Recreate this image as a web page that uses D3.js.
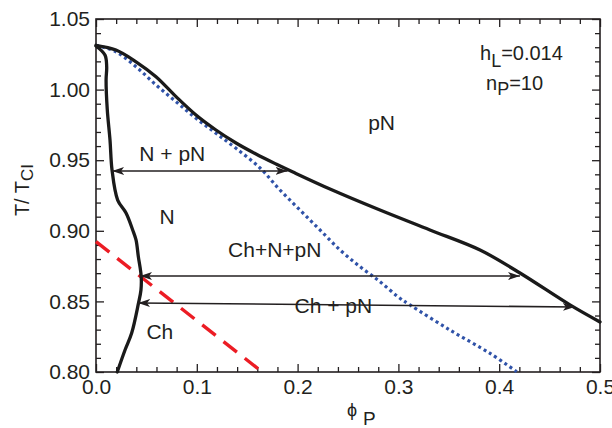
<!DOCTYPE html>
<html>
<head>
<meta charset="utf-8">
<script src="https://cdn.jsdelivr.net/npm/d3@7"></script>
<style>
  body { margin: 0; background: #fff; }
  text { font-family: "Liberation Sans", Arial, sans-serif; fill: #231f20; }
</style>
</head>
<body>
<div id="chart"></div>
<script>
// tick values
const xMajor = [0, 0.1, 0.2, 0.3, 0.4, 0.5];
const yMajor = [0.80, 0.85, 0.90, 0.95, 1.00, 1.05];

// phase boundaries [phi_P, T/T_CI]
const upperBoundary = [
  [0, 1.0314], [0.0198, 1.0280], [0.0397, 1.0197], [0.0595, 1.0091],
  [0.0794, 0.9950], [0.0992, 0.9820], [0.1190, 0.9714], [0.1389, 0.9622],
  [0.1587, 0.9544], [0.1786, 0.9473], [0.1954, 0.9416], [0.2321, 0.9296],
  [0.2817, 0.9147], [0.3313, 0.9006], [0.3810, 0.8864], [0.4206, 0.8701],
  [0.4702, 0.8475], [0.5, 0.8354]
];
const leftBoundary = [
  [0, 1.0309], [0.0089, 1.0245], [0.0106, 1.0162], [0.0100, 1.0068],
  [0.0112, 0.9856], [0.0139, 0.9643], [0.0159, 0.9431], [0.0215, 0.9218],
  [0.0298, 0.9126], [0.0364, 0.9006], [0.0397, 0.8935], [0.0420, 0.8817],
  [0.0448, 0.8680], [0.0446, 0.8581], [0.0420, 0.8482], [0.0354, 0.8276],
  [0.0288, 0.8156], [0.0211, 0.80]
];
const spinodal = [
  [0, 1.0314], [0.0198, 1.0268], [0.0397, 1.0162], [0.0595, 1.0033],
  [0.0794, 0.9914], [0.0992, 0.9797], [0.1190, 0.9691], [0.1389, 0.9584],
  [0.1627, 0.9445], [0.1825, 0.9289], [0.2024, 0.9147], [0.2222, 0.9006],
  [0.2421, 0.8864], [0.2619, 0.8746], [0.2817, 0.8640], [0.2996, 0.8533],
  [0.3115, 0.8475], [0.3512, 0.8297], [0.3909, 0.8132], [0.4174, 0.8002]
];
const chLine = [[0, 0.8923], [0.165, 0.80]];

// tie lines and labels
const tieLines = [
  { from: [0.0160, 0.9424], to: [0.1900, 0.9424] },
  { from: [0.0437, 0.8680], to: [0.4206, 0.8680] },
  { from: [0.0417, 0.8489], to: [0.4750, 0.8460] }
];
const regionLabels = [
  { text: "pN", at: [0.270, 0.9714] },
  { text: "N + pN", at: [0.043, 0.9497] },
  { text: "N", at: [0.063, 0.9047] },
  { text: "Ch+N+pN", at: [0.131, 0.8813] },
  { text: "Ch + pN", at: [0.197, 0.8419] },
  { text: "Ch", at: [0.050, 0.8235] }
];

const W = 612, H = 428;
const margin = { top: 19, right: 12, bottom: 56, left: 96 };
const width = W - margin.left - margin.right;
const height = H - margin.top - margin.bottom;

const svg = d3.select("#chart")
  .append("svg")
  .attr("width", W)
  .attr("height", H);

const g = svg.append("g")
  .attr("transform", `translate(${margin.left},${margin.top})`);

const x = d3.scaleLinear().domain([0, 0.5]).range([0, width]);
const y = d3.scaleLinear().domain([0.80, 1.05]).range([height, 0]);

const xMinor = d3.range(0, 0.5001, 0.02).filter(v => Math.abs(v * 10 - Math.round(v * 10)) > 1e-6);
const yMinor = d3.range(0.80, 1.0501, 0.01).filter(v => Math.abs(v * 20 - Math.round(v * 20)) > 1e-6);

// axes: ticks point inwards on all four sides
function styleAxis(sel, fontSize) {
  sel.select(".domain").remove();
  sel.selectAll("line").attr("stroke", "#231f20").attr("stroke-width", 1.3);
  sel.selectAll("text")
    .attr("font-family", "'Liberation Sans', Arial, sans-serif")
    .attr("font-size", fontSize)
    .attr("fill", "#231f20");
}

g.append("g").attr("transform", `translate(0,${height})`)
  .call(d3.axisBottom(x).tickValues(xMajor).tickSize(-8).tickPadding(7).tickFormat(d3.format(".1f")))
  .call(s => styleAxis(s, 21));
g.append("g").attr("transform", `translate(0,${height})`)
  .call(d3.axisBottom(x).tickValues(xMinor).tickSize(-5).tickFormat(""))
  .call(s => styleAxis(s, 21));
g.append("g")
  .call(d3.axisTop(x).tickValues(xMajor).tickSize(-8).tickFormat(""))
  .call(s => styleAxis(s, 21));
g.append("g")
  .call(d3.axisTop(x).tickValues(xMinor).tickSize(-5).tickFormat(""))
  .call(s => styleAxis(s, 21));

g.append("g")
  .call(d3.axisLeft(y).tickValues(yMajor).tickSize(-8).tickPadding(6).tickFormat(d3.format(".2f")))
  .call(s => styleAxis(s, 21));
g.append("g")
  .call(d3.axisLeft(y).tickValues(yMinor).tickSize(-5).tickFormat(""))
  .call(s => styleAxis(s, 21));
g.append("g").attr("transform", `translate(${width},0)`)
  .call(d3.axisRight(y).tickValues(yMajor).tickSize(-8).tickFormat(""))
  .call(s => styleAxis(s, 21));
g.append("g").attr("transform", `translate(${width},0)`)
  .call(d3.axisRight(y).tickValues(yMinor).tickSize(-5).tickFormat(""))
  .call(s => styleAxis(s, 21));

// frame
g.append("rect")
  .attr("width", width)
  .attr("height", height)
  .attr("fill", "none")
  .attr("stroke", "#231f20")
  .attr("stroke-width", 1.6);

// curves
const line = d3.line()
  .x(d => x(d[0]))
  .y(d => y(d[1]))
  .curve(d3.curveCatmullRom.alpha(0.5));

g.append("path")
  .datum(chLine)
  .attr("d", line)
  .attr("fill", "none")
  .attr("stroke", "#ec1c24")
  .attr("stroke-width", 3.4)
  .attr("stroke-dasharray", "17,10");

g.append("path")
  .datum(spinodal)
  .attr("d", line)
  .attr("fill", "none")
  .attr("stroke", "#2f52a8")
  .attr("stroke-width", 3.2)
  .attr("stroke-dasharray", "3,3.2");

g.selectAll(".boundary")
  .data([upperBoundary, leftBoundary])
  .join("path")
  .attr("class", "boundary")
  .attr("d", line)
  .attr("fill", "none")
  .attr("stroke", "#1a1a1a")
  .attr("stroke-width", 3.3)
  .attr("stroke-linecap", "round")
  .attr("stroke-linejoin", "round");

// arrow heads
const defs = svg.append("defs");
defs.append("marker")
  .attr("id", "arrowEnd")
  .attr("markerUnits", "userSpaceOnUse")
  .attr("viewBox", "0 -5 12 10")
  .attr("refX", 12).attr("refY", 0)
  .attr("markerWidth", 12).attr("markerHeight", 10)
  .attr("orient", "auto")
  .append("path")
  .attr("d", "M0,-4L12,0L0,4L3,0Z")
  .attr("fill", "#231f20");
defs.append("marker")
  .attr("id", "arrowStart")
  .attr("markerUnits", "userSpaceOnUse")
  .attr("viewBox", "0 -5 12 10")
  .attr("refX", 0).attr("refY", 0)
  .attr("markerWidth", 12).attr("markerHeight", 10)
  .attr("orient", "auto")
  .append("path")
  .attr("d", "M12,-4L0,0L12,4L9,0Z")
  .attr("fill", "#231f20");

g.selectAll(".tie")
  .data(tieLines)
  .join("line")
  .attr("class", "tie")
  .attr("x1", d => x(d.from[0])).attr("y1", d => y(d.from[1]))
  .attr("x2", d => x(d.to[0])).attr("y2", d => y(d.to[1]))
  .attr("stroke", "#231f20")
  .attr("stroke-width", 1.6)
  .attr("marker-start", "url(#arrowStart)")
  .attr("marker-end", "url(#arrowEnd)");

// region labels
g.selectAll(".region")
  .data(regionLabels)
  .join("text")
  .attr("class", "region")
  .attr("x", d => x(d.at[0]))
  .attr("y", d => y(d.at[1]))
  .attr("font-size", 21)
  .text(d => d.text);

// parameter annotation
const hl = svg.append("text").attr("x", 480).attr("y", 60).attr("font-size", 20);
hl.append("tspan").text("h");
hl.append("tspan").attr("font-size", 18).attr("dy", 7).text("L");
hl.append("tspan").attr("dy", -7).text("=0.014");

const np = svg.append("text").attr("x", 486).attr("y", 90).attr("font-size", 20);
np.append("tspan").text("n");
np.append("tspan").attr("font-size", 18).attr("dy", 5).text("P");
np.append("tspan").attr("dy", -5).text("=10");

// axis titles
svg.append("text")
  .attr("x", 347).attr("y", 416)
  .attr("font-size", 18)
  .text("ϕ");
svg.append("text")
  .attr("x", 363).attr("y", 425)
  .attr("font-size", 19)
  .text("P");

const yTitle = svg.append("text")
  .attr("transform", "translate(29,190) rotate(-90)")
  .attr("text-anchor", "middle")
  .attr("font-size", 20);
yTitle.append("tspan").text("T/ T");
yTitle.append("tspan").attr("font-size", 17).attr("dy", 4).text("CI");
</script>
</body>
</html>
